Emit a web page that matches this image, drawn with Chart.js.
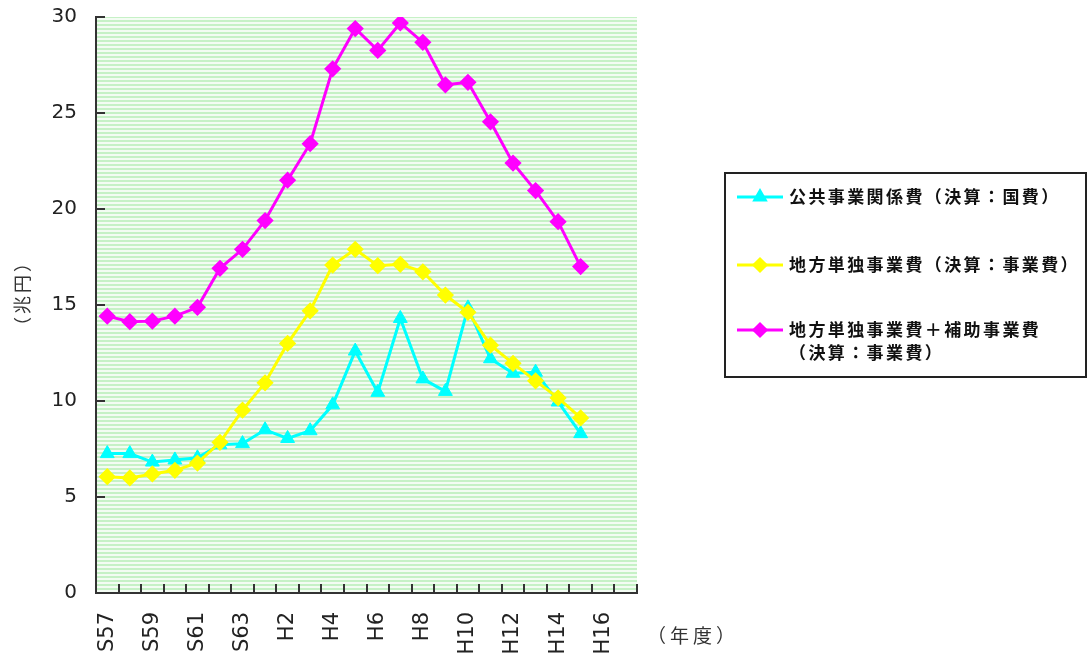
<!DOCTYPE html>
<html>
<head>
<meta charset="utf-8">
<title>公共事業関係費・地方単独事業費の推移</title>
<script src="https://cdn.jsdelivr.net/npm/chart.js@4/dist/chart.umd.min.js"></script>
<style>
  html, body { margin: 0; padding: 0; background: #ffffff; overflow: hidden; }
  canvas { display: block; }
</style>
</head>
<body>
<canvas id="chart" width="1087" height="654"></canvas>
<script>
// Fiscal years (昭和57年度 – 平成17年度)
const years = ['S57','S58','S59','S60','S61','S62','S63',
  'H1','H2','H3','H4','H5','H6','H7','H8','H9','H10',
  'H11','H12','H13','H14','H15','H16','H17'];

// 兆円
const publicWorks = [7.26, 7.26, 6.82, 6.93, 7.04, 7.72, 7.78, 8.5, 8.05, 8.45, 9.8,
  12.6, 10.45, 14.3, 11.15, 10.5, 14.85, 12.2, 11.45, 11.5, 9.95, 8.3];
const localIndependent = [6.06, 5.99, 6.2, 6.39, 6.77, 7.85, 9.52, 10.95, 13.0, 14.7, 17.08,
  17.9, 17.05, 17.12, 16.73, 15.52, 14.62, 12.91, 11.96, 11.05, 10.16, 9.12];
const localPlusSubsidized = [14.42, 14.13, 14.16, 14.42, 14.88, 16.91, 17.9, 19.4, 21.5, 23.4, 27.3,
  29.4, 28.26, 29.69, 28.68, 26.47, 26.6, 24.54, 22.39, 20.96, 19.34, 17.0];

const seriesNames = [
  '公共事業関係費（決算：国費）',
  '地方単独事業費（決算：事業費）',
  '地方単独事業費＋補助事業費（決算：事業費）'
];
const legendLines = [
  ['公共事業関係費（決算：国費）'],
  ['地方単独事業費（決算：事業費）'],
  ['地方単独事業費＋補助事業費', '（決算：事業費）']
];
const yTickValues = [0, 5, 10, 15, 20, 25, 30];
const yUnit = '（兆円）';
const xUnit = '（年度）';

const AXIS_COLOR = '#333333';
const Y_TICK_FONT = { family: '"DejaVu Sans", sans-serif', size: 20 };
const X_TICK_FONT = { family: '"DejaVu Sans", sans-serif', size: 21 };

// Striped pale-green plot background
function makeStripes() {
  const c = document.createElement('canvas');
  c.width = 4; c.height = 4;
  const g = c.getContext('2d');
  g.fillStyle = '#c6f1c6'; g.fillRect(0, 0, 4, 2);
  g.fillStyle = '#f3fcf3'; g.fillRect(0, 2, 4, 2);
  return c;
}
const stripeTile = makeStripes();

const plotDecor = {
  id: 'plotDecor',
  beforeDraw(chart) {
    const { ctx, chartArea: a } = chart;
    ctx.save();
    ctx.fillStyle = ctx.createPattern(stripeTile, 'repeat');
    ctx.fillRect(a.left, a.top, a.right - a.left, a.bottom - a.top);
    ctx.restore();
  },
  afterDraw(chart) {
    const { ctx, chartArea: a, scales } = chart;
    const x = scales.x, y = scales.y;
    ctx.save();
    // inward tick marks
    ctx.strokeStyle = AXIS_COLOR;
    ctx.lineWidth = 2;
    ctx.beginPath();
    yTickValues.forEach(v => {
      const py = Math.round(y.getPixelForValue(v));
      ctx.moveTo(a.left, py); ctx.lineTo(a.left + 9, py);
    });
    const half = (x.getPixelForValue(1) - x.getPixelForValue(0)) / 2;
    for (let i = 0; i < years.length; i++) {
      const px = Math.round(x.getPixelForValue(i) + half);
      ctx.moveTo(px, a.bottom); ctx.lineTo(px, a.bottom - 9);
    }
    ctx.stroke();

    // axis unit labels
    ctx.fillStyle = '#333333';
    ctx.textAlign = 'center';
    ctx.textBaseline = 'middle';
    ctx.font = '18px "Noto Sans CJK JP"';
    ctx.letterSpacing = '3px';
    ctx.save();
    ctx.translate(22, 293);
    ctx.rotate(-Math.PI / 2);
    ctx.fillText(yUnit, 0, 0);
    ctx.restore();
    ctx.font = '19px "Noto Sans CJK JP"';
    ctx.letterSpacing = '4px';
    ctx.textAlign = 'left';
    ctx.fillText(xUnit, 647, 636);
    ctx.letterSpacing = '0px';

    // legend box
    const box = { x: 725, y: 173, w: 361, h: 204 };
    ctx.fillStyle = '#ffffff';
    ctx.fillRect(box.x, box.y, box.w, box.h);
    ctx.strokeStyle = '#222222';
    ctx.lineWidth = 2;
    ctx.strokeRect(box.x, box.y, box.w, box.h);

    const rowY = [197, 265, 330];
    chart.data.datasets.forEach((ds, i) => {
      const yy = rowY[i];
      ctx.strokeStyle = ds.borderColor;
      ctx.lineWidth = 3;
      ctx.beginPath();
      ctx.moveTo(737, yy); ctx.lineTo(783, yy);
      ctx.stroke();
      ctx.fillStyle = ds.pointBackgroundColor;
      ctx.strokeStyle = ds.pointBorderColor;
      Chart.helpers.drawPoint(ctx, {
        pointStyle: ds.pointStyle,
        radius: 6,
        rotation: 0,
        borderWidth: 1
      }, 760, yy);

      ctx.fillStyle = '#111111';
      ctx.font = 'bold 17px "Noto Sans CJK JP"';
      ctx.letterSpacing = '2.4px';
      ctx.textAlign = 'left';
      ctx.textBaseline = 'middle';
      legendLines[i].forEach((line, k) => {
        ctx.fillText(line, 789, yy + k * 23);
      });
      ctx.letterSpacing = '0px';
    });
    ctx.restore();
  }
};

const datasets = [
  {
    label: seriesNames[0],
    data: publicWorks,
    borderColor: '#00ffff',
    backgroundColor: '#00ffff',
    pointBackgroundColor: '#00ffff',
    pointBorderColor: '#00ffff',
    pointStyle: 'triangle',
    pointRadius: 8,
    pointBorderWidth: 1,
    borderWidth: 3,
    order: 1
  },
  {
    label: seriesNames[1],
    data: localIndependent,
    borderColor: '#ffff00',
    backgroundColor: '#ffff00',
    pointBackgroundColor: '#ffff00',
    pointBorderColor: '#ffff00',
    pointStyle: 'rectRot',
    pointRadius: 6.5,
    pointBorderWidth: 3,
    borderWidth: 3,
    order: 0
  },
  {
    label: seriesNames[2],
    data: localPlusSubsidized,
    borderColor: '#ff00ff',
    backgroundColor: '#ff00ff',
    pointBackgroundColor: '#ff00ff',
    pointBorderColor: '#ff00ff',
    pointStyle: 'rectRot',
    pointRadius: 6.5,
    pointBorderWidth: 3,
    borderWidth: 3,
    order: 2
  }
];

new Chart(document.getElementById('chart'), {
  type: 'line',
  data: { labels: years, datasets },
  options: {
    responsive: false,
    animation: false,
    devicePixelRatio: 1,
    layout: { padding: { top: 17, right: 450, bottom: 0, left: 0 } },
    plugins: {
      legend: { display: false },
      tooltip: { enabled: false },
      title: { display: false }
    },
    elements: { line: { tension: 0 } },
    scales: {
      x: {
        type: 'category',
        offset: true,
        grid: { drawOnChartArea: false, drawTicks: false, offset: true },
        border: { display: true, color: AXIS_COLOR, width: 2 },
        ticks: {
          autoSkip: false,
          minRotation: 90,
          maxRotation: 90,
          padding: 19,
          color: '#222222',
          font: X_TICK_FONT,
          callback: (v, i) => (i % 2 === 0 ? years[i] : '')
        },
        afterFit(scale) {
          scale.height = 61;
          scale.paddingLeft = 0;
          scale.paddingRight = 0;
        }
      },
      y: {
        min: 0,
        max: 30,
        grid: { drawOnChartArea: false, drawTicks: false },
        border: { display: true, color: AXIS_COLOR, width: 2 },
        ticks: {
          stepSize: 5,
          padding: 19,
          color: '#222222',
          font: Y_TICK_FONT
        },
        afterFit(scale) {
          scale.width = 96;
          scale.paddingTop = 0;
          scale.paddingBottom = 0;
        }
      }
    }
  },
  plugins: [plotDecor]
});
</script>
</body>
</html>
